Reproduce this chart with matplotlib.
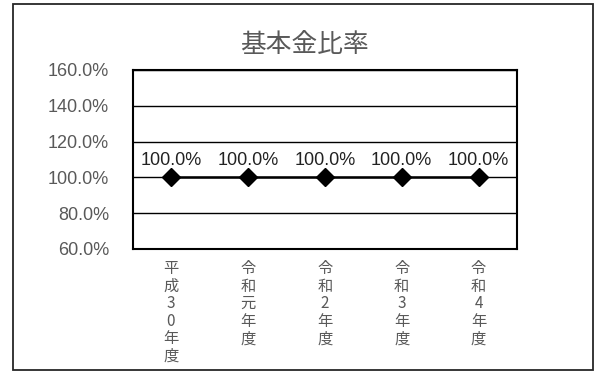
import matplotlib
matplotlib.use("Agg")
import matplotlib.pyplot as plt
from matplotlib.ticker import FuncFormatter

plt.rcParams['font.family'] = ['Liberation Sans', 'Noto Sans CJK JP']

categories = ["平成30年度", "令和元年度", "令和2年度", "令和3年度", "令和4年度"]
values = [100.0, 100.0, 100.0, 100.0, 100.0]
yticks = [60, 80, 100, 120, 140, 160]

# vertical labels: one character per line
tick_labels = ["\n".join(cat) for cat in categories]

fig = plt.figure(figsize=(5.96, 3.72), dpi=100)
fig.patches.append(plt.Rectangle((12.5/596, 2/372), 580.5/596, 366/372, transform=fig.transFigure,
                                 fill=False, edgecolor="#262626", linewidth=1.3))

ax = fig.add_axes([132.5/596, 1 - 249/372, 384.5/596, 179/372])
x = list(range(len(categories)))
ax.plot(x, values, color="black", linewidth=1.8, marker="D", markersize=9.5, zorder=3)
for xi, v in zip(x, values):
    ax.annotate(f"{v:.1f}%", (xi, v), xytext=(0, 6), textcoords="offset points",
                ha="center", va="bottom", fontsize=13, color="#222222")

ax.set_xlim(-0.5, len(categories) - 0.5)
ax.set_ylim(60, 160)
ax.set_yticks(yticks)
ax.yaxis.set_major_formatter(FuncFormatter(lambda v, p: f"{v:.1f}%"))
ax.grid(axis="y", color="black", linewidth=1)
ax.set_axisbelow(True)
for s in ax.spines.values():
    s.set_color("black")
    s.set_linewidth(1.5)
ax.tick_params(axis="y", length=0, pad=17, labelsize=13, labelcolor="#595959")
ax.set_xticks(x)
ax.set_xticklabels(tick_labels, fontsize=11, color="#595959", linespacing=1.04,
                   family=['Noto Sans CJK JP'], va="top")
ax.tick_params(axis="x", length=0, pad=8)

fig.text(304/596, 1 - 45/372, "基本金比率", ha="center", va="center", fontsize=18.5,
         color="#595959", family=['Noto Sans CJK JP'])

fig.savefig("out.png", dpi=100)
